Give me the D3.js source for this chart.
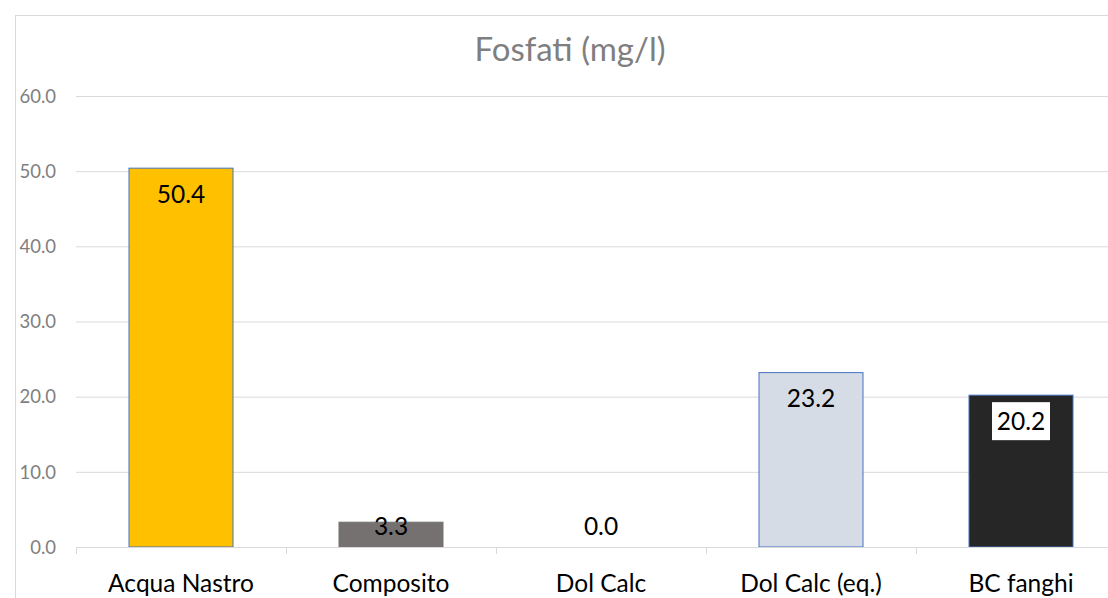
<!DOCTYPE html>
<html><head><meta charset="utf-8">
<script src="https://cdn.jsdelivr.net/npm/d3@7"></script>
<style>
html,body{margin:0;padding:0;background:#fff;}
svg{display:block;}
</style></head>
<body>
<svg id="chart" width="1108" height="598"></svg>
<script>
const title = "Fosfati (mg/l)";
const categories = ["Acqua Nastro", "Composito", "Dol Calc", "Dol Calc (eq.)", "BC fanghi"];
const values = [50.4, 3.3, 0.0, 23.2, 20.2];
const barColors = ["#FFC000", "#767171", "#FFFFFF", "#D6DCE5", "#262626"];
const barStrokes = ["#4472C4", "#767171", "none", "#4472C4", "#4472C4"];
const yTicks = [0, 10, 20, 30, 40, 50, 60];

const font = "Lato, 'Open Sans', sans-serif";
const svg = d3.select("#chart");

// chart frame
svg.append("rect").attr("x", 15.5).attr("y", 15.5).attr("width", 1200).attr("height", 700)
  .attr("fill", "#fff").attr("stroke", "#D9D9D9").attr("stroke-width", 1);

const x = d3.scaleBand().domain(categories).range([76, 1126]).paddingInner(0.5).paddingOuter(0.25);
const y = d3.scaleLinear().domain([0, 60]).range([547, 96]);

// gridlines + y labels
const yAxis = svg.append("g").attr("transform", "translate(76,0)")
  .call(d3.axisLeft(y).tickValues(yTicks).tickFormat(d3.format(".1f")).tickSize(-1050).tickPadding(20));
yAxis.select(".domain").remove();
yAxis.selectAll(".tick line").attr("stroke", "#D9D9D9").attr("stroke-width", 1);
yAxis.selectAll(".tick text").attr("fill", "#7F7F7F").style("font-family", font).style("font-size", "18.5px").attr("dy", "0.34em");

// category tick marks at band boundaries
const step = x.step();
const bounds = categories.map(c => x(c) - step * x.paddingInner() / 2);
bounds.push(x(categories[categories.length - 1]) + x.bandwidth() + step * x.paddingInner() / 2);
svg.append("g").selectAll("line").data(bounds).join("line")
  .attr("x1", d => Math.round(d) + 0.5).attr("x2", d => Math.round(d) + 0.5)
  .attr("y1", y(0)).attr("y2", y(0) + 7)
  .attr("stroke", "#D9D9D9").attr("stroke-width", 1);

// bars
svg.append("g").selectAll("rect").data(values).join("rect")
  .attr("x", (d, i) => x(categories[i]) + 0.5)
  .attr("width", x.bandwidth() - 1)
  .attr("y", d => y(d))
  .attr("height", d => y(0) - y(d))
  .attr("fill", (d, i) => barColors[i])
  .attr("stroke", (d, i) => barStrokes[i])
  .attr("stroke-width", 1);

// x axis category labels
const xAxis = svg.append("g").attr("transform", `translate(0,${y(0)})`)
  .call(d3.axisBottom(x).tickSize(0).tickPadding(28));
xAxis.select(".domain").remove();
xAxis.selectAll(".tick text").attr("fill", "#000").style("font-family", font).style("font-size", "24.5px");

// axis line
svg.append("line").attr("x1", 76).attr("x2", 1126).attr("y1", Math.round(y(0)) + 0.5).attr("y2", Math.round(y(0)) + 0.5)
  .attr("stroke", "#D9D9D9").attr("stroke-width", 1);

// value labels
const labelY = d => Math.min(y(d) + 26, y(0) - 21);
const lg = svg.append("g");
values.forEach((v, i) => {
  const cx = x(categories[i]) + x.bandwidth() / 2;
  const cy = labelY(v);
  if (i === 4) {
    lg.append("rect").attr("x", cx - 29).attr("y", cy - 19).attr("width", 58).attr("height", 38).attr("fill", "#fff");
  }
  lg.append("text").attr("x", cx).attr("y", cy).attr("dy", "0.36em")
    .attr("text-anchor", "middle").attr("fill", "#000")
    .style("font-family", font).style("font-size", "24.5px")
    .text(d3.format(".1f")(v));
});

// title
svg.append("text").attr("x", 570).attr("y", 61).attr("text-anchor", "middle")
  .attr("fill", "#7F7F7F").style("font-family", font).style("font-size", "33px")
  .text(title);
</script>
</body></html>
